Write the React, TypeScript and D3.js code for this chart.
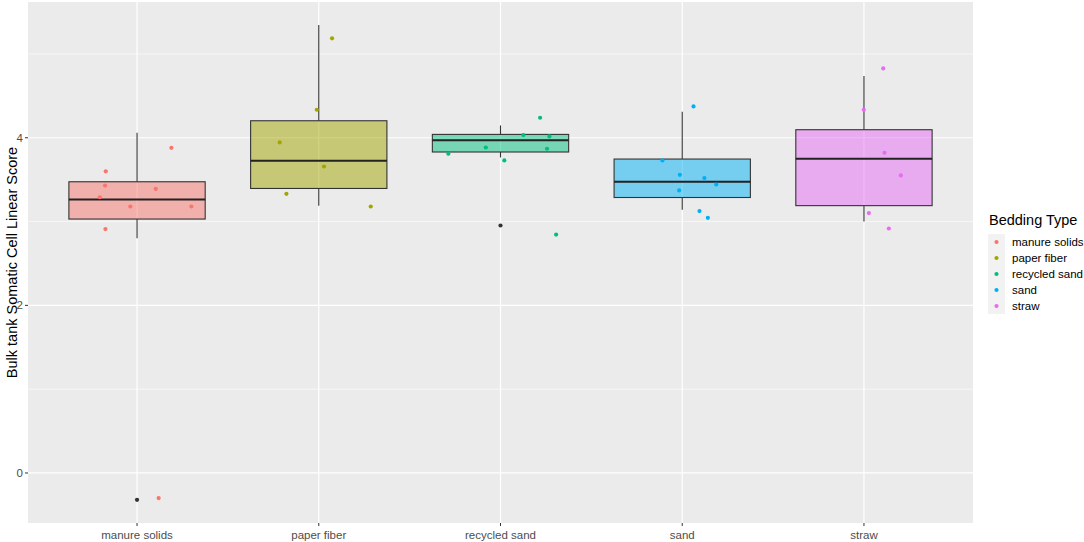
import React, { useEffect, useRef } from 'react';
import * as d3 from 'd3';

const categories = ['manure solids', 'paper fiber', 'recycled sand', 'sand', 'straw'];
const colors = ['#F8766D', '#A3A500', '#00BF7D', '#00B0F6', '#E76BF3'];

// box statistics
const whiskerLow = [2.8, 3.19, 3.765, 3.14, 3.0];
const quart1 = [3.03, 3.395, 3.83, 3.287, 3.19];
const medians = [3.263, 3.725, 3.97, 3.475, 3.749];
const quart3 = [3.475, 4.203, 4.04, 3.746, 4.096];
const whiskerHigh = [4.06, 5.346, 4.147, 4.31, 4.737];

// boxplot outliers (category index, value)
const outlierCat = [0, 2];
const outlierVal = [-0.32, 2.953];

// jittered observations: value and horizontal jitter (fraction of band step)
const manureVals = [3.88, 3.6, 3.43, 3.39, 3.29, 3.18, 3.18, 2.91, -0.3];
const manureJit = [0.189, -0.172, -0.176, 0.103, -0.205, -0.037, 0.299, -0.174, 0.119];
const paperVals = [5.186, 4.334, 3.944, 3.657, 3.331, 3.18];
const paperJit = [0.073, -0.011, -0.215, 0.029, -0.178, 0.286];
const recycledVals = [4.239, 4.032, 4.016, 3.884, 3.869, 3.81, 3.729, 2.845];
const recycledJit = [0.218, 0.126, 0.269, -0.081, 0.256, -0.287, 0.021, 0.306];
const sandVals = [4.374, 3.729, 3.558, 3.519, 3.442, 3.371, 3.125, 3.045];
const sandJit = [0.062, -0.109, -0.013, 0.122, 0.187, -0.017, 0.095, 0.141];
const strawVals = [4.827, 4.334, 3.821, 3.55, 3.101, 2.917];
const strawJit = [0.106, -0.001, 0.113, 0.203, 0.027, 0.137];

const pointVals = [manureVals, paperVals, recycledVals, sandVals, strawVals];
const pointJit = [manureJit, paperJit, recycledJit, sandJit, strawJit];

const yTicks = [0, 2, 4];
const yMinor = [1, 3, 5];

const W = 1084;
const H = 542;
const FONT = '"Liberation Sans", Arial, sans-serif';

const BoxChart: React.FC = () => {
  const svgRef = useRef<SVGSVGElement>(null);

  useEffect(() => {
    if (!svgRef.current) return;
    const svg = d3.select(svgRef.current);
    svg.selectAll('*').remove();

    const panel = { left: 28, top: 2, right: 973, bottom: 523 };

    const x = d3.scaleBand<string>()
      .domain(categories)
      .range([panel.left, panel.right])
      .paddingInner(0)
      .paddingOuter(0.1);
    const step = x.step();
    const cx = (c: string) => (x(c) as number) + x.bandwidth() / 2;

    const y = d3.scaleLinear()
      .domain([-0.597, 5.62])
      .range([panel.bottom, panel.top]);

    // panel background
    svg.append('rect')
      .attr('x', panel.left).attr('y', panel.top)
      .attr('width', panel.right - panel.left)
      .attr('height', panel.bottom - panel.top)
      .attr('fill', '#EBEBEB');

    const grid = svg.append('g');
    yMinor.forEach(v => {
      grid.append('line')
        .attr('x1', panel.left).attr('x2', panel.right)
        .attr('y1', y(v)).attr('y2', y(v))
        .attr('stroke', '#FFFFFF').attr('stroke-width', 0.6);
    });
    yTicks.forEach(v => {
      grid.append('line')
        .attr('x1', panel.left).attr('x2', panel.right)
        .attr('y1', y(v)).attr('y2', y(v))
        .attr('stroke', '#FFFFFF').attr('stroke-width', 1.2);
    });
    categories.forEach(c => {
      grid.append('line')
        .attr('x1', cx(c)).attr('x2', cx(c))
        .attr('y1', panel.top).attr('y2', panel.bottom)
        .attr('stroke', '#FFFFFF').attr('stroke-width', 1.2);
    });

    // boxes
    const boxW = step * 0.75;
    const boxes = svg.append('g');
    categories.forEach((c, i) => {
      const xc = cx(c);
      boxes.append('line')
        .attr('x1', xc).attr('x2', xc)
        .attr('y1', y(whiskerHigh[i])).attr('y2', y(quart3[i]))
        .attr('stroke', '#333333').attr('stroke-width', 1.1);
      boxes.append('line')
        .attr('x1', xc).attr('x2', xc)
        .attr('y1', y(quart1[i])).attr('y2', y(whiskerLow[i]))
        .attr('stroke', '#333333').attr('stroke-width', 1.1);
      boxes.append('rect')
        .attr('x', xc - boxW / 2)
        .attr('y', y(quart3[i]))
        .attr('width', boxW)
        .attr('height', y(quart1[i]) - y(quart3[i]))
        .attr('fill', colors[i])
        .attr('fill-opacity', 0.5)
        .attr('stroke', '#333333')
        .attr('stroke-width', 1.1);
      boxes.append('line')
        .attr('x1', xc - boxW / 2).attr('x2', xc + boxW / 2)
        .attr('y1', y(medians[i])).attr('y2', y(medians[i]))
        .attr('stroke', '#222222').attr('stroke-width', 2);
    });

    outlierCat.forEach((ci, k) => {
      boxes.append('circle')
        .attr('cx', cx(categories[ci]))
        .attr('cy', y(outlierVal[k]))
        .attr('r', 2.1)
        .attr('fill', '#333333');
    });

    // jittered points
    const pts = svg.append('g');
    categories.forEach((c, i) => {
      pointVals[i].forEach((v, j) => {
        pts.append('circle')
          .attr('cx', cx(c) + pointJit[i][j] * step)
          .attr('cy', y(v))
          .attr('r', 2.1)
          .attr('fill', colors[i]);
      });
    });

    // y axis
    const yAxis = svg.append('g');
    yTicks.forEach(v => {
      yAxis.append('line')
        .attr('x1', panel.left - 3).attr('x2', panel.left)
        .attr('y1', y(v)).attr('y2', y(v))
        .attr('stroke', '#333333').attr('stroke-width', 1);
      yAxis.append('text')
        .attr('x', panel.left - 5)
        .attr('y', y(v))
        .attr('dy', '0.35em')
        .attr('text-anchor', 'end')
        .attr('font-family', FONT)
        .attr('font-size', 11.5)
        .attr('fill', '#4D4D4D')
        .text(String(v));
    });
    svg.append('text')
      .attr('transform', `translate(12,${(panel.top + panel.bottom) / 2}) rotate(-90)`)
      .attr('dy', '0.35em')
      .attr('text-anchor', 'middle')
      .attr('font-family', FONT)
      .attr('font-size', 14.5)
      .attr('fill', '#000000')
      .text('Bulk tank Somatic Cell Linear Score');

    // x axis
    const xAxis = svg.append('g');
    categories.forEach(c => {
      xAxis.append('line')
        .attr('x1', cx(c)).attr('x2', cx(c))
        .attr('y1', panel.bottom).attr('y2', panel.bottom + 3)
        .attr('stroke', '#333333').attr('stroke-width', 1);
      xAxis.append('text')
        .attr('x', cx(c))
        .attr('y', panel.bottom + 12)
        .attr('dy', '0.35em')
        .attr('text-anchor', 'middle')
        .attr('font-family', FONT)
        .attr('font-size', 11.5)
        .attr('fill', '#4D4D4D')
        .text(c);
    });

    // legend
    const legend = svg.append('g');
    legend.append('text')
      .attr('x', 989).attr('y', 225)
      .attr('font-family', FONT)
      .attr('font-size', 14.5)
      .attr('fill', '#000000')
      .text('Bedding Type');
    const keyY = d3.scalePoint<string>()
      .domain(categories)
      .range([242, 306]);
    legend.append('rect')
      .attr('x', 988).attr('y', 234)
      .attr('width', 17).attr('height', 80)
      .attr('fill', '#F2F2F2');
    categories.forEach((c, i) => {
      legend.append('circle')
        .attr('cx', 996.5).attr('cy', keyY(c) as number)
        .attr('r', 2.1)
        .attr('fill', colors[i]);
      legend.append('text')
        .attr('x', 1012).attr('y', keyY(c) as number)
        .attr('dy', '0.35em')
        .attr('font-family', FONT)
        .attr('font-size', 11.5)
        .attr('fill', '#000000')
        .text(c);
    });
  }, []);

  return <svg ref={svgRef} width={W} height={H} style={{ display: 'block' }} />;
};

export default function App() {
  return (
    <div style={{ position: 'fixed', left: 0, top: 0, width: W, height: H, overflow: 'hidden', background: '#FFFFFF' }}>
      <BoxChart />
    </div>
  );
}
